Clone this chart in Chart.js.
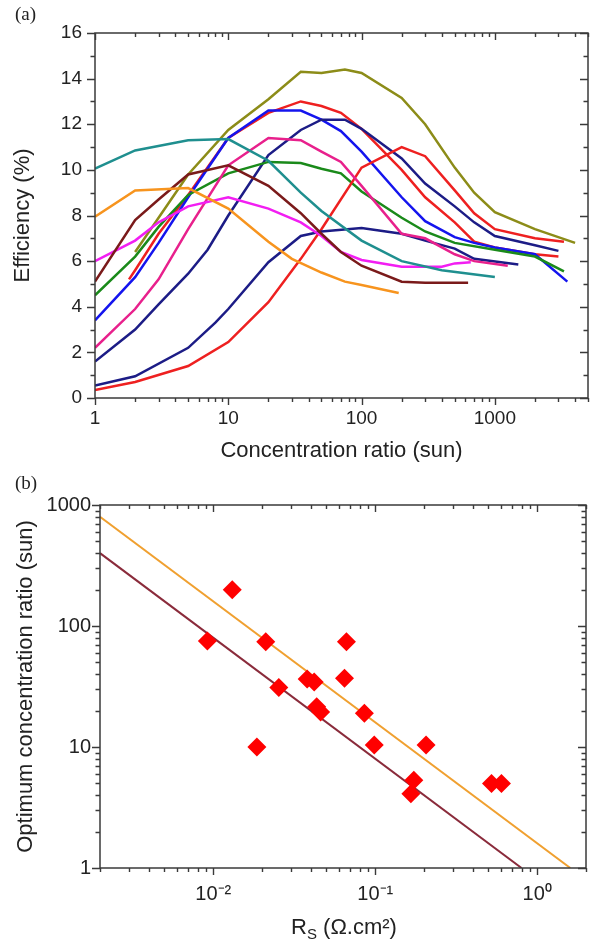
<!DOCTYPE html>
<html>
<head>
<meta charset="utf-8">
<script src="https://cdn.jsdelivr.net/npm/chart.js@4.4.1/dist/chart.umd.min.js"></script>
<style>
  body { margin: 0; background: #fff; width: 600px; height: 944px; position: relative; overflow: hidden; }
  canvas { position: absolute; left: 0; }
  #c1 { top: 0; }
  #c2 { top: 470px; }
  .panel { position: absolute; font-family: "Liberation Serif", serif; font-size: 19px; color: #222; }
  #rs { position: absolute; left: 194px; top: 917px; width: 300px; text-align: center;
        font-family: "Liberation Sans", Arial, sans-serif; font-size: 22px; line-height: 20px; color: #222; }
  #rs sub { font-size: 15px; vertical-align: -5px; line-height: 0; }
</style>
</head>
<body>
<canvas id="c1" width="600" height="470"></canvas>
<canvas id="c2" width="600" height="474"></canvas>
<div class="panel" style="left:15px; top:3px;">(a)</div>
<div class="panel" style="left:15px; top:472px;">(b)</div>
<div id="rs">R<sub>S</sub> (Ω.cm²)</div>
<script>
// (a) efficiency (%) vs concentration ratio (sun), [sun, %]
const teal    = [[1,10.05],[2,10.85],[5,11.3],[10,11.35],[20,10.4],[35,9.0],[50,8.2],[100,6.9],[200,6.0],[400,5.6],[1000,5.3]];
const orange  = [[1,7.95],[2,9.1],[5,9.2],[10,8.3],[20,6.85],[30,6.1],[50,5.5],[75,5.1],[100,4.95],[190,4.6]];
const brown   = [[1,5.1],[2,7.8],[3,8.7],[5,9.8],[10,10.2],[20,9.3],[35,8.1],[50,7.2],[70,6.4],[100,5.8],[200,5.1],[300,5.05],[630,5.05]];
const magenta = [[1,6.0],[2,6.9],[3,7.7],[5,8.4],[10,8.8],[20,8.3],[35,7.7],[50,7.1],[70,6.4],[100,6.05],[200,5.75],[400,5.75],[500,5.9],[660,5.95]];
const pink    = [[1,2.2],[2,3.9],[3,5.2],[5,7.4],[10,10.2],[20,11.4],[35,11.3],[50,10.8],[70,10.35],[100,9.3],[200,7.2],[300,7.0],[500,6.3],[700,6.0],[1250,5.8]];
const blue    = [[1,3.4],[2,5.3],[3,6.8],[5,8.8],[10,11.4],[20,12.6],[35,12.6],[50,12.2],[70,11.7],[100,10.8],[200,8.8],[300,7.75],[500,7.05],[700,6.8],[1000,6.6],[2000,6.3],[3500,5.1]];
const navy1   = [[1,1.6],[2,3.0],[3,4.1],[5,5.45],[7,6.5],[10,8.0],[20,10.65],[35,11.75],[50,12.2],[75,12.2],[100,11.8],[200,10.5],[300,9.4],[500,8.4],[700,7.7],[1000,7.1],[2000,6.7],[3000,6.45]];
const navy2   = [[1,0.55],[2,0.95],[5,2.2],[8,3.3],[10,3.9],[20,5.95],[35,7.1],[50,7.3],[100,7.45],[200,7.2],[300,6.9],[500,6.55],[700,6.1],[1500,5.85]];
const red2    = [[1,0.35],[2,0.7],[5,1.4],[10,2.45],[20,4.2],[35,6.1],[50,7.4],[100,10.1],[200,11.0],[300,10.6],[500,9.1],[700,8.1],[1000,7.4],[2000,7.0],[3300,6.85]];
const red1    = [[1.8,5.2],[2,5.6],[3,7.2],[5,8.9],[10,11.4],[20,12.5],[35,13.0],[50,12.8],[70,12.5],[100,11.8],[200,10.0],[300,8.8],[500,7.7],[700,6.85],[1000,6.6],[2000,6.3],[3000,6.2]];
const green   = [[1,4.5],[2,6.2],[3,7.5],[5,8.9],[10,9.85],[20,10.35],[35,10.3],[50,10.05],[70,9.85],[100,9.05],[200,7.9],[300,7.3],[500,6.8],[1000,6.5],[2000,6.2],[3300,5.55]];
const olive   = [[2,6.4],[3,7.9],[5,9.8],[10,11.75],[20,13.1],[35,14.3],[50,14.25],[75,14.4],[100,14.25],[200,13.15],[300,12.0],[500,10.1],[700,9.0],[1000,8.15],[2000,7.4],[4000,6.8]];

// (b) optimum concentration ratio vs series resistance
const rsValues  = [0.0092, 0.0131, 0.0211, 0.0254, 0.0186, 0.038, 0.042, 0.0646, 0.0664, 0.0435, 0.046, 0.0857, 0.0986, 0.206, 0.173, 0.166, 0.522, 0.601];
const optValues = [75, 199, 74, 31, 10, 36.5, 34.5, 37, 74, 21.5, 19.5, 19, 10.4, 10.4, 5.3, 4.1, 5.0, 5.0];
const upperFit = [[0.002, 800], [1.6, 1]];
const lowerFit = [[0.002, 400], [0.8, 1]];

const FONT = '"Liberation Sans", Arial, sans-serif';
const TXT = '#222';

const isPow10 = v => Math.abs(Math.log10(v) - Math.round(Math.log10(v))) < 1e-6;

// tick values for a scale: 1..9 x 10^n for log axes, every integer for linear
function tickValues(scale) {
  const out = [];
  if (scale.type === 'logarithmic') {
    for (let e = Math.floor(Math.log10(scale.min)); e <= Math.ceil(Math.log10(scale.max)); e++) {
      for (let m = 1; m <= 9; m++) {
        const v = m * Math.pow(10, e);
        if (v >= scale.min * 0.999 && v <= scale.max * 1.001) out.push({ v, major: m === 1 });
      }
    }
  } else {
    for (let v = scale.min; v <= scale.max; v++) out.push({ v, major: v % 2 === 0 });
  }
  return out;
}

// box round the plot + tick marks (outward bottom/left, inward top/right)
function tickMarks(xMajor, xMinor, yMajor, yMinor) {
  return {
    id: 'tickMarks',
    afterDraw(chart) {
      const ctx = chart.ctx;
      const a = chart.chartArea;
      const sx = chart.scales.x, sy = chart.scales.y;
      ctx.save();
      ctx.strokeStyle = '#3a3a3a';
      ctx.lineWidth = 1.5;
      ctx.strokeRect(a.left, a.top, a.right - a.left, a.bottom - a.top);
      ctx.lineWidth = 1.4;
      tickValues(sx).forEach(t => {
        const p = Math.round(sx.getPixelForValue(t.v)) + 0.5;
        const len = t.major ? xMajor : xMinor;
        ctx.beginPath();
        ctx.moveTo(p, a.bottom); ctx.lineTo(p, a.bottom + len);
        ctx.moveTo(p, a.top); ctx.lineTo(p, a.top + len);
        ctx.stroke();
      });
      tickValues(sy).forEach(t => {
        const p = Math.round(sy.getPixelForValue(t.v)) + 0.5;
        const len = t.major ? yMajor : yMinor;
        ctx.beginPath();
        ctx.moveTo(a.left, p); ctx.lineTo(a.left - len, p);
        ctx.moveTo(a.right, p); ctx.lineTo(a.right - len, p);
        ctx.stroke();
      });
      ctx.restore();
    }
  };
}

function line(data, color) {
  return { data, borderColor: color, backgroundColor: color, borderWidth: 2.5, showLine: true, pointRadius: 0, tension: 0 };
}

new Chart(document.getElementById('c1'), {
  type: 'scatter',
  data: {
    datasets: [
      line(teal, '#1f8f8f'),
      line(orange, '#f7941e'),
      line(brown, '#7a1a1a'),
      line(magenta, '#f21ef2'),
      line(pink, '#e8208c'),
      line(navy2, '#1c1c86'),
      line(red2, '#ee2020'),
      line(green, '#1a8a1a'),
      line(navy1, '#1c1c86'),
      line(blue, '#1414ee'),
      line(red1, '#ee2020'),
      line(olive, '#8c8c18'),
    ]
  },
  options: {
    responsive: false,
    animation: false,
    devicePixelRatio: 1,
    layout: { padding: { top: 33, right: 12, left: 0, bottom: 0 } },
    plugins: { legend: { display: false }, tooltip: { enabled: false } },
    scales: {
      x: {
        type: 'logarithmic', min: 1, max: 5000,
        grid: { display: false, drawTicks: false },
        border: { display: false },
        ticks: {
          autoSkip: false, maxRotation: 0, padding: 9, color: TXT,
          font: { family: FONT, size: 19 },
          callback: v => isPow10(v) ? String(Math.round(v)) : ''
        },
        title: { display: true, text: 'Concentration ratio (sun)', color: TXT,
                 font: { family: FONT, size: 22 }, padding: { top: 0, bottom: 6 } },
        afterFit: s => { s.height = 72; }
      },
      y: {
        type: 'linear', min: 0, max: 16,
        grid: { display: false, drawTicks: false },
        border: { display: false },
        ticks: {
          stepSize: 1, autoSkip: false, padding: 13, color: TXT,
          font: { family: FONT, size: 19 },
          callback: v => v % 2 === 0 ? String(v) : ''
        },
        title: { display: true, text: 'Efficiency (%)', color: TXT,
                 font: { family: FONT, size: 22 }, padding: { top: 10, bottom: 0 } },
        afterFit: s => { s.width = 95; }
      }
    }
  },
  plugins: [tickMarks(7, 4, 8, 4.5)]
});

const expLabel = { '-2': '10⁻²', '-1': '10⁻¹', '0': '10⁰' };

new Chart(document.getElementById('c2'), {
  type: 'scatter',
  data: {
    datasets: [
      {
        data: rsValues.map((x, i) => ({ x, y: optValues[i] })),
        pointStyle: 'rectRot', pointRadius: 9.5, backgroundColor: '#ff0000', borderColor: '#ff0000',
        borderWidth: 0, order: 0
      },
      { data: upperFit, borderColor: '#f0a030', borderWidth: 2, showLine: true, pointRadius: 0, order: 1 },
      { data: lowerFit, borderColor: '#8a2b3b', borderWidth: 2, showLine: true, pointRadius: 0, order: 1 }
    ]
  },
  options: {
    responsive: false,
    animation: false,
    devicePixelRatio: 1,
    layout: { padding: { top: 35, right: 12, left: 0, bottom: 0 } },
    plugins: { legend: { display: false }, tooltip: { enabled: false } },
    scales: {
      x: {
        type: 'logarithmic', min: 0.002, max: 2,
        grid: { display: false, drawTicks: false },
        border: { display: false },
        ticks: {
          autoSkip: false, maxRotation: 0, padding: 14, color: TXT,
          font: { family: FONT, size: 20 },
          callback: v => isPow10(v) ? (expLabel[String(Math.round(Math.log10(v)))] || '') : ''
        },
        afterFit: s => { s.height = 76; }
      },
      y: {
        type: 'logarithmic', min: 1, max: 1000,
        grid: { display: false, drawTicks: false },
        border: { display: false },
        ticks: {
          autoSkip: false, padding: 9, color: TXT,
          font: { family: FONT, size: 20 },
          callback: v => isPow10(v) ? String(Math.round(v)) : ''
        },
        title: { display: true, text: 'Optimum concentration ratio (sun)', color: TXT,
                 font: { family: FONT, size: 22 }, padding: { top: 13, bottom: 0 } },
        afterFit: s => { s.width = 100; }
      }
    }
  },
  plugins: [tickMarks(7, 4, 8, 4.5)]
});
</script>
</body>
</html>
